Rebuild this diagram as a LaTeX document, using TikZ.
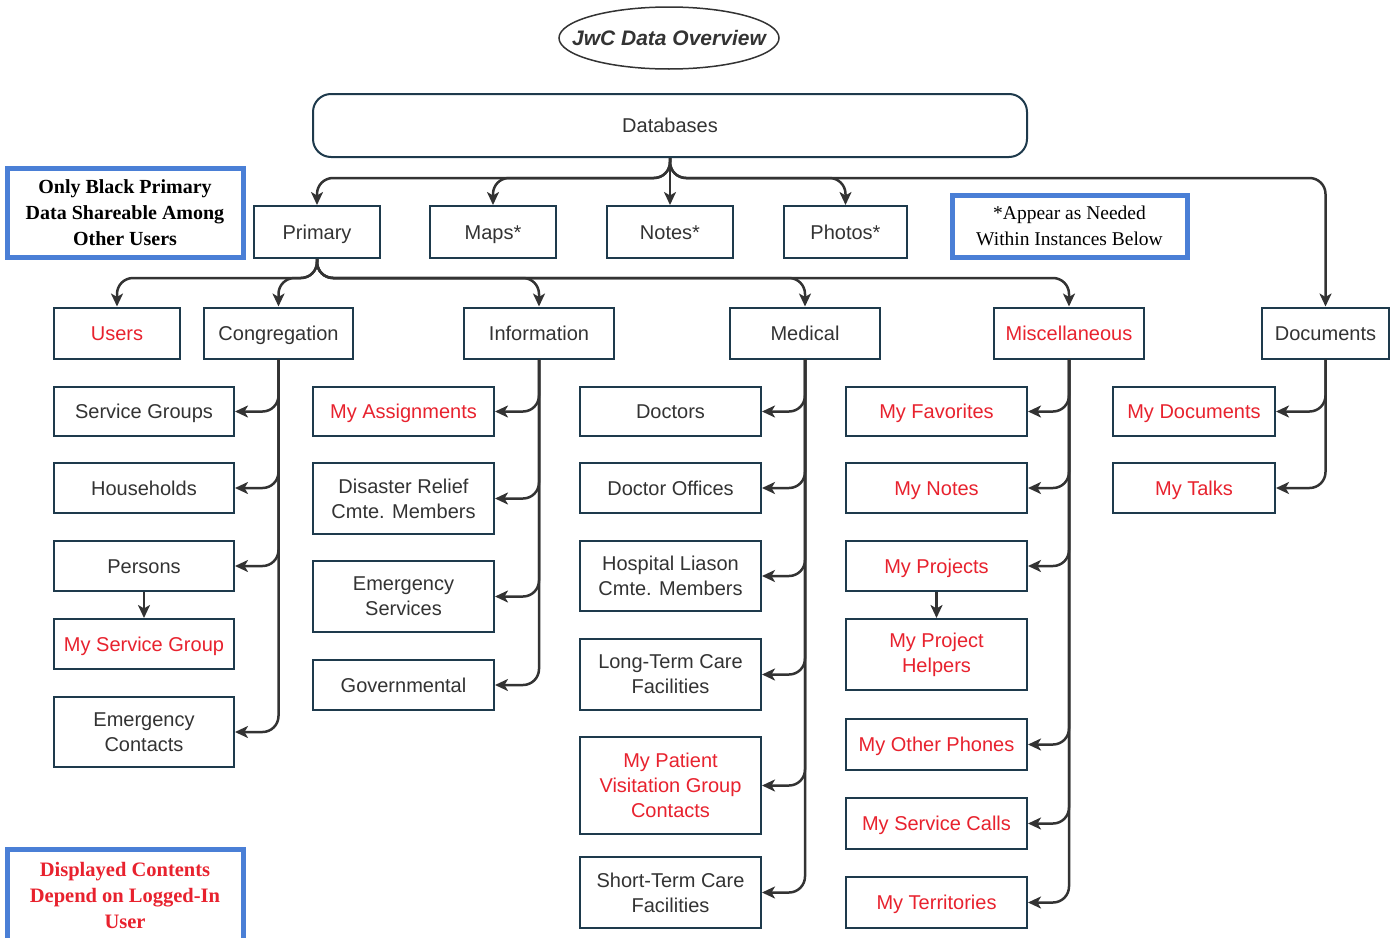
\documentclass[tikz,border=0pt]{standalone}
\usepackage{fontspec}
\setmainfont{Liberation Sans}
\newfontfamily\notefont{Liberation Serif}
\usetikzlibrary{arrows.meta}
\definecolor{boxline}{HTML}{1E3A4C}
\definecolor{txt}{HTML}{333333}
\definecolor{myred}{HTML}{E8222E}
\definecolor{noteblue}{HTML}{4A7FD6}
\definecolor{conn}{HTML}{333333}
\begin{document}
\begin{tikzpicture}[x=1pt,y=-1pt,
  mbox/.style={draw=boxline, line width=2pt, fill=white, text=txt,
    font=\fontsize{20}{25}\selectfont, align=center, inner sep=0pt},
  box/.style={mbox, text height=18pt, text depth=4pt},
  rbox/.style={box, text=myred},
  rmbox/.style={mbox, text=myred},
  conn/.style={draw=conn, line width=2.5pt, rounded corners=16pt,
    -{Stealth[length=13pt,width=12pt,inset=3.5pt]}},
  note/.style={draw=noteblue, line width=5pt, fill=white, align=center,
    inner sep=0pt, font=\notefont\bfseries\fontsize{20}{26}\selectfont}
]
\useasboundingbox (0,0) rectangle (1400,937);

% title
\node[font=\bfseries\itshape\fontsize{21}{25}\selectfont, text=txt] (title) at (669,38) {JwC Data Overview};
\draw[conn, line width=1.5pt, -] (title.center) ellipse [x radius=110, y radius=31];

% databases
\node[box, rounded corners=18pt, minimum width=714, minimum height=63] (db) at (670,125.5) {Databases};

% row 1
\node[box, minimum width=126, minimum height=52] (primary) at (317,232) {Primary};
\node[box, minimum width=126, minimum height=52] (maps) at (493,232) {Maps*};
\node[box, minimum width=126, minimum height=52] (notes) at (670,232) {Notes*};
\node[box, minimum width=123, minimum height=52] (photos) at (845.5,232) {Photos*};

% notes
\node[note, minimum width=236, minimum height=89] (n1) at (125,212.5) {Only Black Primary\\Data Shareable Among\\Other Users};
\node[note, font=\notefont\fontsize{19.5}{26}\selectfont, minimum width=235, minimum height=62] (n2) at (1069.5,226) {*Appear as Needed\\Within Instances Below};
\node[note, text=myred, font=\notefont\bfseries\fontsize{20.5}{26}\selectfont, minimum width=236, minimum height=92] (n3) at (125,895) {Displayed Contents\\Depend on Logged-In\\User};

% row 2
\node[rbox, minimum width=126, minimum height=51] (users) at (117,333) {Users};
\node[box, minimum width=149, minimum height=51] (cong) at (278.5,333) {Congregation};
\node[box, minimum width=150, minimum height=51] (info) at (539,333) {Information};
\node[box, minimum width=150, minimum height=51] (med) at (805,333) {Medical};
\node[rbox, minimum width=150, minimum height=51] (misc) at (1069,333) {Miscellaneous};
\node[box, minimum width=127, minimum height=51] (docs) at (1325.5,333) {Documents};

% congregation children
\node[box, minimum width=180, minimum height=49] (sg) at (144,411.5) {Service Groups};
\node[box, minimum width=180, minimum height=50] (hh) at (144,488) {Households};
\node[box, minimum width=180, minimum height=50] (pers) at (144,566) {Persons};
\node[rbox, minimum width=180, minimum height=50] (msg) at (144,644) {My Service Group};
\node[mbox, minimum width=180, minimum height=70] (ec) at (144,732) {Emergency\\Contacts};

% information children
\node[rbox, minimum width=181, minimum height=49] (ma) at (403.5,411.5) {My Assignments};
\node[mbox, minimum width=181, minimum height=71] (dr) at (403.5,498.5) {Disaster Relief\\Cmte. Members};
\node[mbox, minimum width=181, minimum height=71] (es) at (403.5,596.5) {Emergency\\Services};
\node[box, minimum width=181, minimum height=50] (gov) at (403.5,685) {Governmental};

% medical children
\node[box, minimum width=181, minimum height=49] (doc) at (670.5,411.5) {Doctors};
\node[box, minimum width=181, minimum height=50] (doff) at (670.5,488) {Doctor Offices};
\node[mbox, minimum width=181, minimum height=70] (hosp) at (670.5,576) {Hospital Liason\\Cmte. Members};
\node[mbox, minimum width=181, minimum height=71] (ltc) at (670.5,674.5) {Long-Term Care\\Facilities};
\node[rmbox, minimum width=181, minimum height=97] (pvg) at (670.5,785.5) {My Patient\\Visitation Group\\Contacts};
\node[mbox, minimum width=181, minimum height=71] (stc) at (670.5,892.5) {Short-Term Care\\Facilities};

% miscellaneous children
\node[rbox, minimum width=181, minimum height=49] (fav) at (936.5,411.5) {My Favorites};
\node[rbox, minimum width=181, minimum height=50] (mnotes) at (936.5,488) {My Notes};
\node[rbox, minimum width=181, minimum height=50] (proj) at (936.5,566) {My Projects};
\node[rmbox, minimum width=181, minimum height=71] (ph) at (936.5,654.5) {My Project\\Helpers};
\node[rbox, minimum width=181, minimum height=51] (op) at (936.5,744.5) {My Other Phones};
\node[rbox, minimum width=181, minimum height=51] (sc) at (936.5,823.5) {My Service Calls};
\node[rbox, minimum width=181, minimum height=51] (terr) at (936.5,902.5) {My Territories};

% documents children
\node[rbox, minimum width=162, minimum height=49] (mdoc) at (1194,411.5) {My Documents};
\node[rbox, minimum width=162, minimum height=50] (talks) at (1194,488) {My Talks};

% connectors from databases
\draw[conn] (db.south) -- ++(0,20) -| (primary.north);
\draw[conn] (db.south) -- ++(0,20) -| (maps.north);
\draw[conn] (db.south) -- (notes.north);
\draw[conn] (db.south) -- ++(0,20) -| (photos.north);
\draw[conn] (db.south) -- ++(0,20) -| (docs.north);

% connectors from primary
\draw[conn] (primary.south) -- ++(0,19) -| (users.north);
\draw[conn] (primary.south) -- ++(0,19) -| (cong.north);
\draw[conn] (primary.south) -- ++(0,19) -| (info.north);
\draw[conn] (primary.south) -- ++(0,19) -| (med.north);
\draw[conn] (primary.south) -- ++(0,19) -| (misc.north);

% trunks
\foreach \c in {sg,hh,pers,ec} \draw[conn] (cong.south) |- (\c.east);
\draw[conn] (pers.south) -- (msg.north);
\foreach \c in {ma,dr,es,gov} \draw[conn] (info.south) |- (\c.east);
\foreach \c in {doc,doff,hosp,ltc,pvg,stc} \draw[conn] (med.south) |- (\c.east);
\foreach \c in {fav,mnotes,proj,op,sc,terr} \draw[conn] (misc.south) |- (\c.east);
\draw[conn] (proj.south) -- (ph.north);
\foreach \c in {mdoc,talks} \draw[conn] (docs.south) |- (\c.east);
\end{tikzpicture}
\end{document}
